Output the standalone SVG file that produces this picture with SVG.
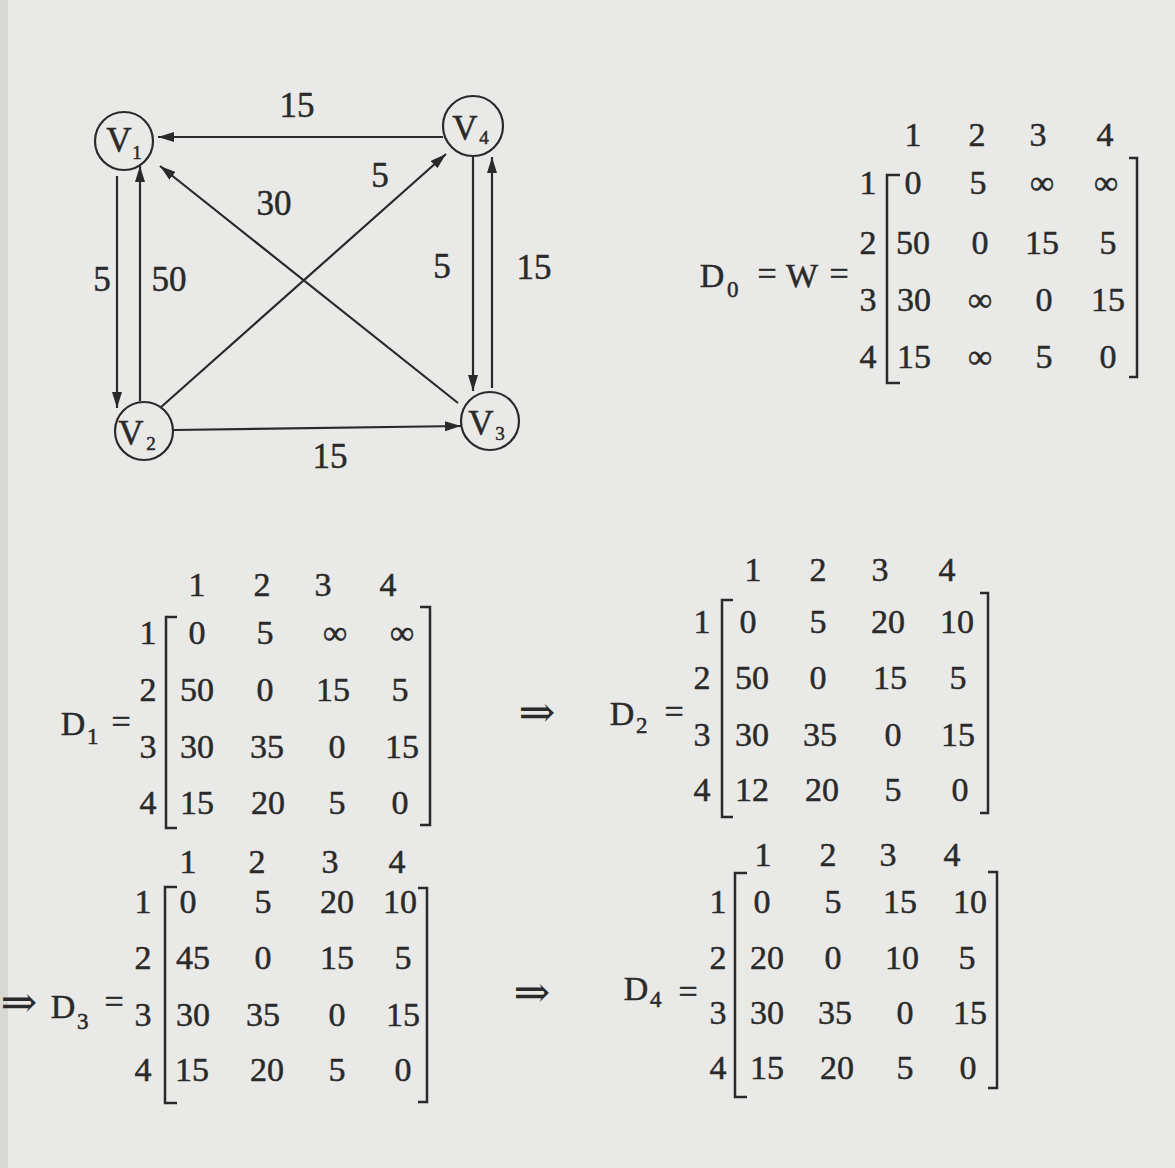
<svg xmlns="http://www.w3.org/2000/svg" width="1175" height="1168" viewBox="0 0 1175 1168">
<style>
text{font-family:"Liberation Serif","DejaVu Serif",serif;fill:#2a2a2a;stroke:#2a2a2a;stroke-width:0.5}
.m{font-size:34px;text-anchor:middle}
.l{font-size:35px;text-anchor:middle}
.sub{font-size:23px}
.nv{font-size:35px;text-anchor:middle}
.ns{font-size:19px;text-anchor:middle}
.ar{font-size:44px;text-anchor:middle;stroke:none;font-family:"DejaVu Serif","Liberation Serif",serif}
.br{fill:none;stroke:#2a2a2a;stroke-width:2.5}
.e{fill:none;stroke:#2a2a2a;stroke-width:2.2}
.node{fill:none;stroke:#2a2a2a;stroke-width:2.2}
</style>
<defs>
<marker id="ah" viewBox="0 0 16 10" refX="16" refY="5" markerWidth="16" markerHeight="10" markerUnits="userSpaceOnUse" orient="auto">
<path d="M0,0 L16,5 L0,10 Z" fill="#2a2a2a"/>
</marker>
</defs>
<rect width="1175" height="1168" fill="#e9e9e7"/>
<rect width="8" height="1168" fill="#d8d8d5"/>

<g id="connectors">
<line class="e" x1="443" y1="137" x2="158" y2="137" marker-end="url(#ah)"/>
<line class="e" x1="117" y1="176" x2="117" y2="408" marker-end="url(#ah)"/>
<line class="e" x1="140" y1="401" x2="140" y2="166" marker-end="url(#ah)"/>
<line class="e" x1="160" y1="408" x2="446" y2="154" marker-end="url(#ah)"/>
<line class="e" x1="458" y1="403" x2="160" y2="166" marker-end="url(#ah)"/>
<line class="e" x1="473" y1="157" x2="473" y2="391" marker-end="url(#ah)"/>
<line class="e" x1="492" y1="388" x2="492" y2="157" marker-end="url(#ah)"/>
<line class="e" x1="174" y1="430" x2="461" y2="426" marker-end="url(#ah)"/>
<text class="l" x="297" y="117">15</text>
<text class="l" x="102" y="291">5</text>
<text class="l" x="169" y="291">50</text>
<text class="l" x="274" y="215">30</text>
<text class="l" x="380" y="187">5</text>
<text class="l" x="442" y="278">5</text>
<text class="l" x="534" y="279">15</text>
<text class="l" x="330" y="468">15</text>
</g>

<g id="V1"><circle class="node" cx="124" cy="141" r="29"/><text class="nv" x="119" y="152">V</text><text class="ns" x="137" y="159">1</text></g>
<g id="V4"><circle class="node" cx="473" cy="126" r="30"/><text class="nv" x="465" y="140">V</text><text class="ns" x="484" y="144">4</text></g>
<g id="V2"><circle class="node" cx="144" cy="431" r="29"/><text class="nv" x="131" y="445">V</text><text class="ns" x="151" y="450">2</text></g>
<g id="V3"><circle class="node" cx="490" cy="421" r="29"/><text class="nv" x="481" y="435">V</text><text class="ns" x="500" y="440">3</text></g>

<g id="D0">
<text class="m" x="712" y="287">D</text><text class="sub" x="727" y="297">0</text>
<text class="m" x="767" y="285">=</text><text class="m" x="802" y="287">W</text><text class="m" x="839" y="285">=</text>
<text class="m" x="913" y="146">1</text><text class="m" x="977" y="146">2</text><text class="m" x="1038" y="146">3</text><text class="m" x="1105" y="146">4</text>
<text class="m" x="868" y="194">1</text><text class="m" x="868" y="254">2</text><text class="m" x="868" y="311">3</text><text class="m" x="868" y="368">4</text>
<path class="br" d="M900,175 H887 V383 H900"/>
<path class="br" d="M1129,158 H1137 V377 H1129"/>
<text class="m" x="913" y="194">0</text><text class="m" x="978" y="194">5</text><text class="m" x="1042" y="194">∞</text><text class="m" x="1106" y="194">∞</text>
<text class="m" x="913" y="254">50</text><text class="m" x="980" y="254">0</text><text class="m" x="1042" y="254">15</text><text class="m" x="1108" y="254">5</text>
<text class="m" x="914" y="311">30</text><text class="m" x="980" y="311">∞</text><text class="m" x="1044" y="311">0</text><text class="m" x="1108" y="311">15</text>
<text class="m" x="914" y="368">15</text><text class="m" x="980" y="368">∞</text><text class="m" x="1044" y="368">5</text><text class="m" x="1108" y="368">0</text>
</g>

<g id="D1">
<text class="m" x="73" y="735">D</text><text class="sub" x="87" y="744">1</text>
<text class="m" x="121" y="733">=</text>
<text class="m" x="197" y="596">1</text><text class="m" x="262" y="596">2</text><text class="m" x="323" y="596">3</text><text class="m" x="388" y="596">4</text>
<text class="m" x="148" y="644">1</text><text class="m" x="148" y="701">2</text><text class="m" x="148" y="758">3</text><text class="m" x="148" y="814">4</text>
<path class="br" d="M177,617 H166 V828 H177"/>
<path class="br" d="M420,607 H430 V825 H420"/>
<text class="m" x="197" y="644">0</text><text class="m" x="265" y="644">5</text><text class="m" x="335" y="644">∞</text><text class="m" x="402" y="644">∞</text>
<text class="m" x="197" y="701">50</text><text class="m" x="265" y="701">0</text><text class="m" x="333" y="701">15</text><text class="m" x="400" y="701">5</text>
<text class="m" x="197" y="758">30</text><text class="m" x="267" y="758">35</text><text class="m" x="337" y="758">0</text><text class="m" x="402" y="758">15</text>
<text class="m" x="197" y="814">15</text><text class="m" x="268" y="814">20</text><text class="m" x="337" y="814">5</text><text class="m" x="400" y="814">0</text>
</g>

<text class="ar" x="537" y="727">⇒</text>

<g id="D2">
<text class="m" x="622" y="725">D</text><text class="sub" x="636" y="733">2</text>
<text class="m" x="674" y="723">=</text>
<text class="m" x="753" y="581">1</text><text class="m" x="818" y="581">2</text><text class="m" x="880" y="581">3</text><text class="m" x="947" y="581">4</text>
<text class="m" x="702" y="633">1</text><text class="m" x="702" y="689">2</text><text class="m" x="702" y="746">3</text><text class="m" x="702" y="801">4</text>
<path class="br" d="M733,600 H722 V817 H733"/>
<path class="br" d="M980,593 H988 V813 H980"/>
<text class="m" x="748" y="633">0</text><text class="m" x="818" y="633">5</text><text class="m" x="888" y="633">20</text><text class="m" x="957" y="633">10</text>
<text class="m" x="752" y="689">50</text><text class="m" x="818" y="689">0</text><text class="m" x="890" y="689">15</text><text class="m" x="958" y="689">5</text>
<text class="m" x="752" y="746">30</text><text class="m" x="820" y="746">35</text><text class="m" x="893" y="746">0</text><text class="m" x="958" y="746">15</text>
<text class="m" x="752" y="801">12</text><text class="m" x="822" y="801">20</text><text class="m" x="893" y="801">5</text><text class="m" x="960" y="801">0</text>
</g>

<text class="ar" x="19" y="1017">⇒</text>

<g id="D3">
<text class="m" x="63" y="1018">D</text><text class="sub" x="77" y="1029">3</text>
<text class="m" x="114" y="1013">=</text>
<text class="m" x="188" y="873">1</text><text class="m" x="257" y="873">2</text><text class="m" x="330" y="873">3</text><text class="m" x="397" y="873">4</text>
<text class="m" x="143" y="913">1</text><text class="m" x="143" y="969">2</text><text class="m" x="143" y="1026">3</text><text class="m" x="143" y="1081">4</text>
<path class="br" d="M177,887 H165 V1103 H177"/>
<path class="br" d="M418,888 H427 V1102 H418"/>
<text class="m" x="188" y="913">0</text><text class="m" x="263" y="913">5</text><text class="m" x="337" y="913">20</text><text class="m" x="400" y="913">10</text>
<text class="m" x="193" y="969">45</text><text class="m" x="263" y="969">0</text><text class="m" x="337" y="969">15</text><text class="m" x="403" y="969">5</text>
<text class="m" x="193" y="1026">30</text><text class="m" x="263" y="1026">35</text><text class="m" x="337" y="1026">0</text><text class="m" x="403" y="1026">15</text>
<text class="m" x="192" y="1081">15</text><text class="m" x="267" y="1081">20</text><text class="m" x="337" y="1081">5</text><text class="m" x="403" y="1081">0</text>
</g>

<text class="ar" x="532" y="1007">⇒</text>

<g id="D4">
<text class="m" x="636" y="1000">D</text><text class="sub" x="650" y="1007">4</text>
<text class="m" x="688" y="1003">=</text>
<text class="m" x="763" y="866">1</text><text class="m" x="828" y="866">2</text><text class="m" x="888" y="866">3</text><text class="m" x="952" y="866">4</text>
<text class="m" x="718" y="913">1</text><text class="m" x="718" y="969">2</text><text class="m" x="718" y="1024">3</text><text class="m" x="718" y="1079">4</text>
<path class="br" d="M747,873 H735 V1097 H747"/>
<path class="br" d="M988,872 H997 V1088 H988"/>
<text class="m" x="762" y="913">0</text><text class="m" x="833" y="913">5</text><text class="m" x="900" y="913">15</text><text class="m" x="970" y="913">10</text>
<text class="m" x="767" y="969">20</text><text class="m" x="833" y="969">0</text><text class="m" x="902" y="969">10</text><text class="m" x="967" y="969">5</text>
<text class="m" x="767" y="1024">30</text><text class="m" x="835" y="1024">35</text><text class="m" x="905" y="1024">0</text><text class="m" x="970" y="1024">15</text>
<text class="m" x="767" y="1079">15</text><text class="m" x="837" y="1079">20</text><text class="m" x="905" y="1079">5</text><text class="m" x="968" y="1079">0</text>
</g>
</svg>
